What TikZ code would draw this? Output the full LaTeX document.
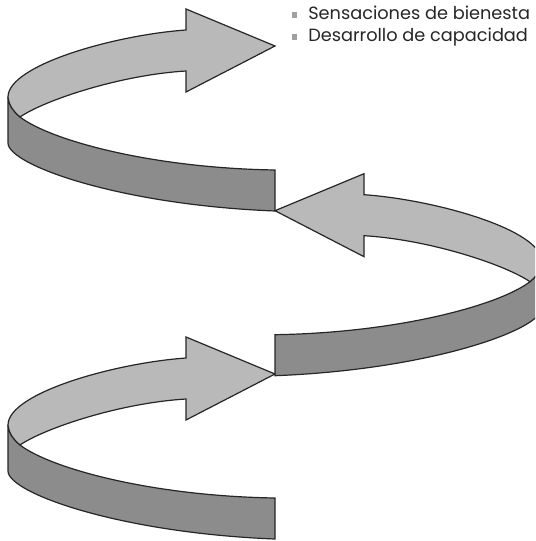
\documentclass[tikz,border=0pt]{standalone}
\usepackage{fontspec}
\setmainfont{Poppins}
\usetikzlibrary{positioning}
\definecolor{lightface}{RGB}{185,185,185}
\definecolor{darkface}{RGB}{140,140,140}
\definecolor{bulletgray}{RGB}{160,160,160}

\begin{document}
\begin{tikzpicture}[x=0.75pt,y=-0.75pt,
                    ribbon/.style={draw=black!85,line width=0.9pt},
                    light face/.style={ribbon,fill=lightface},
                    dark face/.style={ribbon,fill=darkface},
                    item/.style={font=\fontsize{13.3}{16}\selectfont,text=black!85,inner sep=0pt},
                    bullet/.style={fill=bulletgray,minimum size=3.8pt,inner sep=0pt}]

  \useasboundingbox (0,0) rectangle (535,541);
  \clip (0,0) rectangle (535,541);

  \foreach \dy/\s in {0/1,164.7/-1,328/1}{
    \begin{scope}[shift={(275,46+\dy)},xscale=\s]
      \draw[dark face] (-267,51) -- (-267,97) .. controls (-267,119) and (-155,159) .. (0,165)
        -- (0,124) .. controls (-125,122) and (-225,94) .. (-255,71)
        .. controls (-261,66) and (-266,60) .. (-267,51) -- cycle;
      \draw[light face] (0,0) -- (-89,-37) -- (-89,-16)
        .. controls (-160,-11) and (-267,19) .. (-267,51)
        .. controls (-266,60) and (-261,66) .. (-255,71)
        .. controls (-230,54) and (-155,29) .. (-89,25)
        -- (-89,46) -- cycle;
    \end{scope}
  }

  \node[item,anchor=base west] (t1) at (308,20) {Sensaciones de bienesta};
  \node[item,anchor=base west] (t2) at (308,41.7) {Desarrollo de capacidad};
  \node[bullet] (b1) at (294.8,15) {};
  \node[bullet] (b2) at (294.8,37) {};
\end{tikzpicture}
\end{document}
